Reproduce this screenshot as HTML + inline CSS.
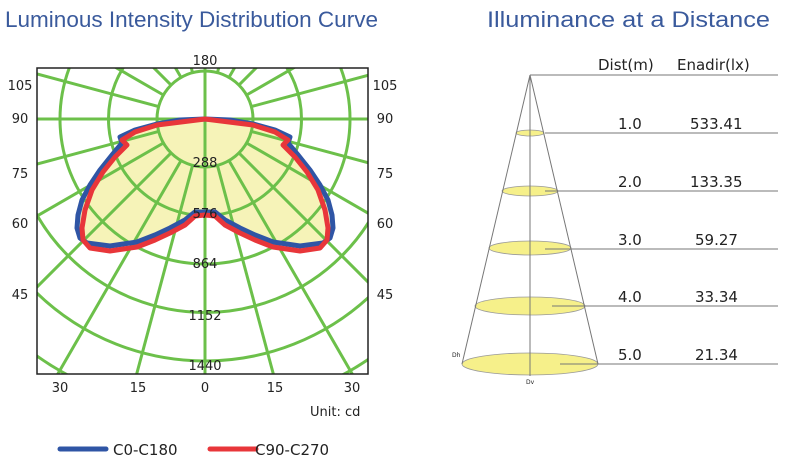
<!DOCTYPE html>
<html><head><style>
html,body{margin:0;background:#fff;overflow:hidden;}
svg{display:block;}
svg text{font-family:"DejaVu Sans","Liberation Sans",sans-serif;fill:#222;}
.t{font-family:"Liberation Sans",sans-serif;fill:#3a5a9c;font-size:22px;}
</style></head><body>
<svg width="788" height="468" viewBox="0 0 788 468" xmlns="http://www.w3.org/2000/svg">
<defs><clipPath id="c"><rect x="37" y="68" width="331" height="306"/></clipPath></defs>
<text class="t" x="5" y="27" textLength="373" lengthAdjust="spacingAndGlyphs">Luminous Intensity Distribution Curve</text>
<text class="t" x="487" y="27" textLength="283" lengthAdjust="spacingAndGlyphs">Illuminance at a Distance</text>

<path id="fill" fill="#f6f3b8" stroke="none"/>
<g clip-path="url(#c)" stroke="#6cc04a" stroke-width="3" fill="none" id="grid"></g>
<path id="blue" fill="none" stroke="#2f55a5" stroke-width="5" stroke-linejoin="round"/>
<path id="red" fill="none" stroke="#e8363a" stroke-width="5" stroke-linejoin="round"/>
<rect x="37" y="68" width="331" height="306" fill="none" stroke="#222" stroke-width="1.5"/>

<g font-size="13" text-anchor="middle">
<text x="205" y="65">180</text>
<text x="205" y="167">288</text>
<text x="205" y="218">576</text>
<text x="205" y="268">864</text>
<text x="205" y="320">1152</text>
<text x="205" y="370">1440</text>
<text x="60" y="392">30</text><text x="138" y="392">15</text><text x="205" y="392">0</text><text x="275" y="392">15</text><text x="352" y="392">30</text>
<text x="20" y="90">105</text><text x="385" y="90">105</text>
<text x="20" y="123">90</text><text x="385" y="123">90</text>
<text x="20" y="178">75</text><text x="385" y="178">75</text>
<text x="20" y="228">60</text><text x="385" y="228">60</text>
<text x="20" y="299">45</text><text x="385" y="299">45</text>
</g>
<text x="310" y="416" font-size="13">Unit: cd</text>
<line x1="60" y1="449" x2="106" y2="449" stroke="#2f55a5" stroke-width="5" stroke-linecap="round"/>
<text x="113" y="455" font-size="15">C0-C180</text>
<line x1="210" y1="449" x2="256" y2="449" stroke="#e8363a" stroke-width="5" stroke-linecap="round"/>
<text x="255" y="455" font-size="15">C90-C270</text>

<g fill="#f6f08a" stroke="#999" stroke-width="0.8">
<ellipse cx="530" cy="133" rx="14" ry="3"/>
<ellipse cx="530" cy="191" rx="28" ry="5"/>
<ellipse cx="530" cy="248" rx="41" ry="7"/>
<ellipse cx="530" cy="306" rx="55" ry="9"/>
<ellipse cx="530" cy="364" rx="68" ry="11"/>
</g>
<g stroke="#777" stroke-width="1" fill="none">
<line x1="530" y1="75" x2="778" y2="75"/>
<line x1="530" y1="75" x2="462" y2="364"/>
<line x1="530" y1="75" x2="598" y2="364"/>
<line x1="530" y1="75" x2="530" y2="376"/>
<line x1="545" y1="133" x2="778" y2="133"/>
<line x1="545" y1="191" x2="778" y2="191"/>
<line x1="545" y1="249" x2="778" y2="249"/>
<line x1="552" y1="306" x2="778" y2="306"/>
<line x1="560" y1="364" x2="778" y2="364"/>
</g>
<g font-size="15">
<text x="598" y="70">Dist(m)</text><text x="677" y="70">Enadir(lx)</text>
<text x="618" y="129">1.0</text><text x="690" y="129">533.41</text>
<text x="618" y="187">2.0</text><text x="690" y="187">133.35</text>
<text x="618" y="245">3.0</text><text x="695" y="245">59.27</text>
<text x="618" y="302">4.0</text><text x="695" y="302">33.34</text>
<text x="618" y="360">5.0</text><text x="695" y="360">21.34</text>
</g>
<text x="452" y="357" font-size="6">Dh</text>
<text x="526" y="384" font-size="6">Dv</text>
</svg>
<script>
var g=document.getElementById('grid'),cx=205,cy=119,s='';
for(var r=48;r<=400;r+=48.5)s+='<circle cx="'+cx+'" cy="'+cy+'" r="'+r+'"/>';
for(var a=-180;a<=180;a+=15){var t=a*Math.PI/180,dx=Math.sin(t),dy=Math.cos(t);
var r0=(a%90==0)?0:48;
s+='<line x1="'+(cx+dx*r0)+'" y1="'+(cy+dy*r0)+'" x2="'+(cx+dx*600)+'" y2="'+(cy+dy*600)+'"/>';}
g.innerHTML=s;
function mk(p){var a=p.map(function(q){return q[0]+','+q[1]});var b=p.slice().reverse().map(function(q){return (410-q[0])+','+q[1]});return 'M'+a.join(' L')+' L'+b.join(' L')+'Z';}
var B=[[205,119],[230,120],[253,124],[275,130],[290,137],[288,143],[298,155],[310,170],[320,185],[328,200],[332,215],[333,228],[330,238],[323,243],[300,246],[273,242],[255,235],[240,228],[225,220],[215,212],[205,212]];
var R=[[205,119],[253,125],[275,132],[288,140],[283,145],[295,157],[307,172],[318,190],[325,210],[328,228],[327,240],[320,248],[300,251],[273,247],[255,240],[240,233],[225,225],[215,216],[205,215]];
document.getElementById('fill').setAttribute('d',mk(B));
document.getElementById('blue').setAttribute('d',mk(B));
document.getElementById('red').setAttribute('d',mk(R));
</script>
</body></html>
